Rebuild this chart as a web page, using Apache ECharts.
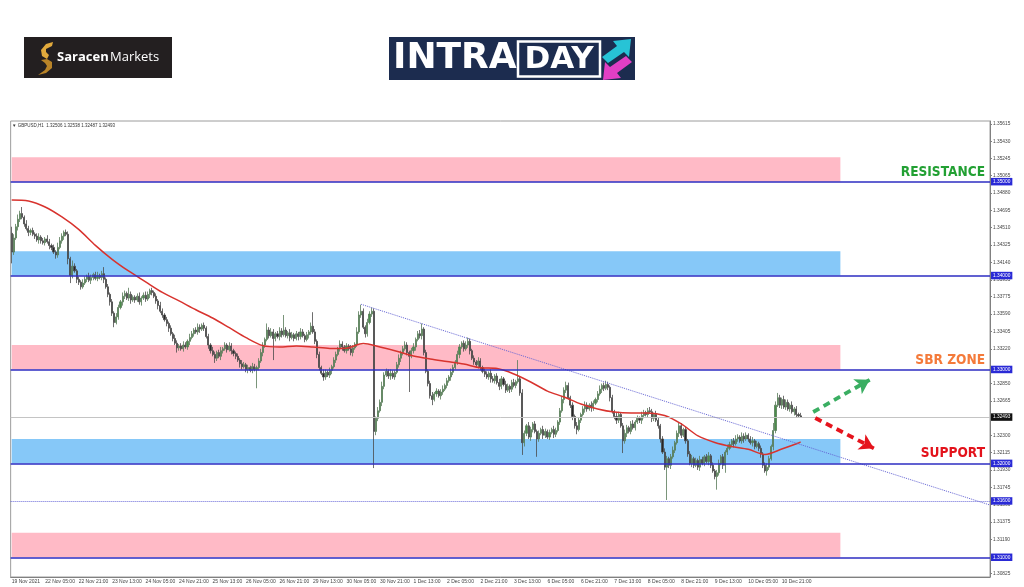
<!DOCTYPE html>
<html><head><meta charset="utf-8">
<script src="https://cdn.jsdelivr.net/npm/echarts@6/dist/echarts.min.js"></script>
<style>html,body{margin:0;padding:0;background:#fff}#c{width:1024px;height:587px}</style>
</head><body><div id="c"></div>
<script>
// GBPUSD H1 — price = BASE + pips/10000
const BASE = 1.3;
const FIRST_OPEN_PIPS = 445;
const CLOSE_PIPS = [
 425,440,452,460,466,462,455,450,446,448,444,
 442,438,441,437,435,439,436,432,430,425,422,430,437,442,446,444,418,400,410,405,396,393,388,392,
 396,399,395,398,401,397,400,398,402,396,388,380,372,360,350,356,366,372,378,381,376,380,374,377,
 374,378,372,376,379,375,380,384,382,378,373,368,362,358,353,349,344,338,333,328,323,325,322,326,
 324,330,334,338,342,340,345,343,347,344,335,326,320,316,312,318,314,320,322,326,321,325,320,317,
 314,310,306,303,305,300,302,299,303,300,302,309,318,326,332,342,336,340,333,338,335,341,337,342,
 336,339,334,337,333,338,335,340,336,332,337,340,346,340,330,316,302,296,292,297,294,299,303,310,
 316,322,327,324,320,325,322,318,323,327,340,358,362,345,338,350,359,362,234,248,256,265,282,294,
 298,293,296,292,297,305,312,318,322,326,318,314,320,324,332,338,336,343,318,298,285,272,268,274,
 277,272,276,279,283,288,292,297,302,308,316,324,328,322,326,330,320,312,308,305,309,302,298,295,
 292,296,290,288,293,286,282,290,284,278,282,279,286,283,287,290,275,222,232,240,228,236,242,234,
 226,232,236,230,234,228,233,236,231,235,244,256,268,278,283,270,262,250,240,236,246,252,258,262,
 258,262,259,264,268,274,279,283,280,284,281,270,255,250,246,252,240,224,232,238,234,242,238,244,
 248,246,251,254,252,256,255,248,252,246,240,226,212,196,205,198,207,214,222,232,240,230,236,224,
 210,200,205,198,203,196,204,200,207,202,208,198,192,186,190,200,207,198,212,216,220,224,221,226,
 228,224,229,226,230,226,222,224,218,221,216,210,198,192,196,205,218,235,262,270,262,268,260,265,
 258,262,255,258,252,250.6,249.3
];
const WICK_UP = [
 7,4,3,5,3,7,2,4,3,2,3,
 2,3,4,2,3,2,4,3,2,3,2,5,4,3,2,3,3,2,6,3,2,3,2,4,
 3,2,4,3,2,3,4,2,3,7,2,3,2,3,2,4,3,2,4,3,2,7,3,2,
 2,3,4,2,3,4,3,2,3,2,3,2,4,3,2,3,2,3,2,4,3,2,3,4,
 3,2,4,3,2,3,4,3,2,3,2,3,2,4,3,2,3,4,2,3,2,4,3,2,
 2,3,2,4,3,2,3,2,4,3,2,3,4,3,2,7,3,4,3,2,3,4,3,16,
 3,2,4,3,2,3,2,4,3,2,3,2,4,15,3,2,3,2,4,3,2,3,2,3,
 3,2,4,3,2,3,2,4,3,2,5,4,7,3,2,4,3,4,3,2,4,3,5,3,
 3,2,4,3,2,3,4,2,3,4,3,2,3,4,2,3,4,6,2,3,2,3,4,2,
 3,2,3,4,2,3,2,4,3,2,4,3,2,3,4,4,3,2,3,2,4,3,2,3,
 3,2,4,3,2,3,4,3,2,4,3,2,3,4,2,20,3,4,3,2,4,3,2,3,
 2,3,2,4,3,2,3,2,4,3,2,3,4,3,4,3,2,3,2,4,3,2,3,4,
 3,2,4,3,2,3,4,2,3,4,3,2,3,2,4,3,2,3,4,3,2,3,4,2,
 3,2,4,3,2,3,4,3,2,4,3,2,3,4,3,2,3,4,2,3,4,3,2,3,
 2,3,4,2,3,2,4,3,2,3,4,2,3,2,3,4,2,3,2,4,3,2,3,4,
 3,2,4,3,3,2,3,4,2,3,2,3,2,3,4,3,2,8,4,5,3,2,4,3,
 3,2,4,2,3,2,3.2
];
const WICK_DN = [
 12,3,2,4,3,2,3,2,4,3,2,
 3,2,4,3,2,3,2,4,3,2,4,3,2,3,4,2,6,8,3,2,4,3,3,2,
 2,3,2,4,3,2,3,2,3,4,2,3,4,3,5,2,3,2,4,3,2,3,4,2,
 3,2,3,4,2,3,2,4,3,2,3,4,2,3,2,3,4,2,3,2,5,3,2,3,
 2,3,4,2,3,2,3,4,2,3,2,4,3,2,5,3,2,4,3,2,3,2,4,3,
 3,2,4,3,2,3,4,2,3,2,20,3,2,4,3,2,3,2,23,3,2,4,3,2,
 2,3,4,2,3,2,4,3,2,3,2,4,3,2,3,4,3,2,4,3,2,3,4,2,
 3,2,3,4,2,3,2,3,4,2,3,2,3,2,4,3,2,3,39,4,3,2,4,3,
 2,3,4,2,3,2,3,4,3,2,3,38,2,3,4,2,3,4,3,2,3,3,6,2,
 3,2,4,3,2,3,2,4,3,2,3,4,2,3,2,3,4,2,3,2,4,3,2,3,
 2,3,4,2,3,2,4,3,2,3,2,4,3,2,3,2,3,13,4,3,2,4,3,2,
 19,3,2,4,3,2,3,2,4,3,2,3,2,4,3,2,3,4,3,5,2,3,2,4,
 3,2,4,3,2,3,2,4,3,2,3,4,2,3,4,3,2,13,3,4,2,3,2,3,
 2,3,4,3,2,3,2,4,3,2,3,4,2,3,35,3,4,2,3,2,4,3,2,3,
 3,2,4,3,2,3,4,2,3,2,4,3,2,3,14,3,2,4,8,3,2,3,4,2,
 3,2,3,4,2,3,2,4,3,2,3,4,3,2,5,3,2,4,3,2,3,4,2,3,
 2,3,2,4,3,2,0.6
];
// moving average read every 8 candles (last value = last candle)
const MA_STEP = 8;
const MA_PIPS = [480.5,479.4,473,462.4,449.2,432.2,417.3,404.6,393.3,382.1,373,363.6,354.8,344.5,333.9,325.4,
 323.9,325,323.9,322.4,322.7,327.7,323.9,319.5,314.4,311.2,308.5,305.8,301.8,301,295.2,286.7,
 277,270.7,263.2,258,254.7,253.7,253.7,251,242,229.2,222.3,218,215,209.5,215.3,221.7,222.8];
const X_LABELS = ['19 Nov 2021','22 Nov 05:00','22 Nov 21:00','23 Nov 13:00','24 Nov 05:00','24 Nov 21:00',
 '25 Nov 13:00','26 Nov 05:00','26 Nov 21:00','29 Nov 13:00','30 Nov 05:00','30 Nov 21:00','1 Dec 13:00',
 '2 Dec 05:00','2 Dec 21:00','3 Dec 13:00','6 Dec 05:00','6 Dec 21:00','7 Dec 13:00','8 Dec 05:00',
 '8 Dec 21:00','9 Dec 13:00','10 Dec 05:00','10 Dec 21:00'];
const Y_TICKS = [1.35615,1.35430,1.35245,1.35065,1.34880,1.34695,1.34510,1.34325,1.34140,1.33955,1.33775,
 1.33590,1.33405,1.33220,1.32850,1.32665,1.32300,1.32115,1.31930,1.31745,1.31560,1.31375,1.31190,1.30825];
const LEVELS = [1.35,1.34,1.33,1.32,1.31];
const LEVEL_LABELS = ['1.35000','1.34000','1.33000','1.32000','1.31000'];
const MINOR_LEVEL = 1.316, MINOR_LABEL = '1.31600';
const LAST_PRICE = 1.32493, LAST_LABEL = '1.32493';
const ZONES = [[1.3526,1.35,'pink'],[1.3426,1.34,'blue'],[1.3326,1.33,'pink'],[1.3226,1.32,'blue'],[1.3126,1.31,'pink']];
const ZONE_END = 396; // candle slot where zones stop
const TREND = [167,1.33694,467,1.3156];
const UP_ARROW = [383,1.32547,410,1.32890];
const DOWN_ARROW = [384,1.32483,412,1.32160];
const ZONE_NAMES = [[1.35,'RESISTANCE','#22a033'],[1.33,'SBR ZONE','#f47a3a'],[1.32,'SUPPORT','#e3121b']];

const N = CLOSE_PIPS.length, SLOTS = 468;
const MON = ['Jan','Feb','Mar','Apr','May','Jun','Jul','Aug','Sep','Oct','Nov','Dec'];
const cats = [];
for (let t = Date.UTC(2021,10,19,13); cats.length < SLOTS; t += 3600000) {
  const d = new Date(t), wd = d.getUTCDay();
  if (wd === 0 || wd === 6) continue;
  cats.push(d.getUTCDate()+' '+MON[d.getUTCMonth()]+' '+String(d.getUTCHours()).padStart(2,'0')+':00');
}
const px = p => +(BASE + p/10000).toFixed(5);
const candles = CLOSE_PIPS.map((c,i) => {
  const o = i ? CLOSE_PIPS[i-1] : FIRST_OPEN_PIPS;
  return [px(o), px(c), px(Math.min(o,c)-WICK_DN[i]), px(Math.max(o,c)+WICK_UP[i])];
});
const ma = new Array(N).fill(null);
MA_PIPS.forEach((v,k) => { ma[Math.min(k*MA_STEP, N-1)] = px(v); });
const XSET = new Set(X_LABELS);
const showX = (i,v) => i === 0 || XSET.has(v);

const boxLabel = (txt,bg) => ({show:true, position:'end', formatter:txt, backgroundColor:bg, color:'#fff',
  fontSize:4.8, fontFamily:'Liberation Sans', padding:[1.5,2,1,2], distance:1});
const levelLines = LEVELS.map((v,i) => ({yAxis:v, lineStyle:{color:'#2d2dc2', width:1.6, type:'solid'}, label:boxLabel(LEVEL_LABELS[i],'#2a2ad6')}));
const otherLines = [
  {yAxis:MINOR_LEVEL, lineStyle:{color:'#6a6ad8', width:1, type:'dotted'}, label:boxLabel(MINOR_LABEL,'#2a2ad6')},
  {yAxis:LAST_PRICE, lineStyle:{color:'#c4c4c4', width:1, type:'solid'}, label:boxLabel(LAST_LABEL,'#111')}
];
const nameLines = ZONE_NAMES.map(z => ({yAxis:z[0], lineStyle:{color:'rgba(0,0,0,0)', width:0}, label:{show:true, position:'insideEndTop',
  formatter:z[1], color:z[2], fontSize:13.6, fontWeight:'bold', fontFamily:"'Liberation Sans Narrow','DejaVu Sans Condensed',sans-serif", distance:[5,2.5]}}));
const trendLine = [[{coord:[cats[TREND[0]],TREND[1]], lineStyle:{color:'#6464d4', width:1, type:'dotted'}},{coord:[cats[TREND[2]],TREND[3]]}]];
const arrow = (a,col) => [{coord:[cats[a[0]],a[1]], symbol:'none', lineStyle:{color:col, width:3.8, type:[7,5]}},
  {coord:[cats[a[2]],a[3]], symbol:'arrow', symbolSize:[13,14]}];
const mlSeries = (z,data) => ({type:'line', z, data:[], silent:true,
  markLine:{silent:true, precision:5, symbol:['none','none'], label:{show:false}, data}});

const option = {
  animation:false, backgroundColor:'#fff',
  grid:{left:10.65, right:34, top:121, height:456, show:true, borderColor:'#9c9c9c', borderWidth:1},
  xAxis:{type:'category', data:cats, boundaryGap:true,
    axisLine:{lineStyle:{color:'#808080'}},
    axisTick:{alignWithLabel:true, interval:showX, length:2, lineStyle:{color:'#808080'}},
    axisLabel:{interval:showX, formatter:(v,i)=> i===0 ? X_LABELS[0] : v, fontSize:5, fontFamily:'Liberation Sans', color:'#444', align:'left', margin:2},
    splitLine:{show:false}},
  yAxis:{type:'value', position:'right', min:1.3079, max:1.35646,
    axisLine:{show:true, lineStyle:{color:'#808080'}},
    axisTick:{show:true, customValues:Y_TICKS, length:2, lineStyle:{color:'#808080'}},
    axisLabel:{customValues:Y_TICKS, formatter:v=>v.toFixed(5), fontSize:4.8, fontFamily:'Liberation Sans', color:'#444', margin:3},
    splitLine:{show:false}},
  series:[
    {type:'line', z:1, data:[], silent:true,
     markArea:{silent:true, data: ZONES.map(z => [{xAxis:cats[0], yAxis:z[0], itemStyle:{color: z[2]==='pink' ? '#ffbac6' : '#86c8f8'}}, {xAxis:cats[ZONE_END], yAxis:z[1]}])}},
    {type:'candlestick', z:3, data:candles, barWidth:1.6,
     itemStyle:{color:'#4a8f4a', color0:'#262626', borderColor:'#587a58', borderColor0:'#4a4a4a', borderWidth:0.8}},
    {type:'line', z:4, data:ma, connectNulls:true, smooth:0.3, symbol:'none', lineStyle:{color:'#d8332e', width:1.5}},
    mlSeries(5, otherLines),
    mlSeries(5, trendLine),
    mlSeries(6, levelLines),
    mlSeries(7, nameLines),
    mlSeries(7, [arrow(UP_ARROW,'#3aae62'), arrow(DOWN_ARROW,'#e5141d')])
  ],
  graphic:[
    {type:'text', left:12, top:123.5, style:{text:'\u25BC GBPUSD,H1  1.32506 1.32538 1.32487 1.32493', fontSize:4.5, fontFamily:'Liberation Sans', fill:'#333'}},
    {type:'rect', shape:{x:24,y:37,width:148,height:41}, style:{fill:'#231f20'}},
    {type:'polygon', shape:{points:[[53,42],[46,44],[41,50],[42,56],[47,59],[49,55],[46,52],[46,49],[52,46]]}, style:{fill:'#e2aa3c'}},
    {type:'polygon', shape:{points:[[47,59],[52,62],[52,68],[46,73],[38,75],[45,70],[47,66],[45,63],[41,60]]}, style:{fill:'#b98428'}},
    {type:'text', x:57, y:57.5, style:{text:'Saracen', fontSize:13, fontWeight:'bold', fontFamily:'Open Sans', fill:'#fff', textVerticalAlign:'middle', verticalAlign:'middle'}},
    {type:'text', x:110, y:57.5, style:{text:'Markets', fontSize:13, fontFamily:'Open Sans', fill:'#fff', textVerticalAlign:'middle', verticalAlign:'middle'}},
    {type:'rect', shape:{x:389,y:37,width:246,height:43}, style:{fill:'#1c2c4f'}},
    {type:'text', x:393, y:59, style:{text:'INTRA', fontSize:36, fontWeight:'bold', fontFamily:'DejaVu Sans', fill:'#fff', textVerticalAlign:'middle', verticalAlign:'middle'}},
    {type:'rect', shape:{x:518,y:41.5,width:82,height:35}, style:{fill:'none', stroke:'#fff', lineWidth:2.5}},
    {type:'text', x:559, y:59.5, style:{text:'DAY', fontSize:31, fontWeight:'bold', fontFamily:'DejaVu Sans', fill:'#fff', textAlign:'center', align:'center', textVerticalAlign:'middle', verticalAlign:'middle'}},
    {type:'polygon', shape:{points:[[602,57],[617,46],[613,41],[631,39],[629,57],[624,52],[608,63]]}, style:{fill:'#27c3d6'}},
    {type:'polygon', shape:{points:[[632,62],[617,73],[621,78],[603,80],[605,62],[610,67],[626,56]]}, style:{fill:'#e23fc4'}}
  ]
};
const chart = echarts.init(document.getElementById('c'), null, {renderer:'canvas'});
chart.setOption(option);
</script></body></html>
